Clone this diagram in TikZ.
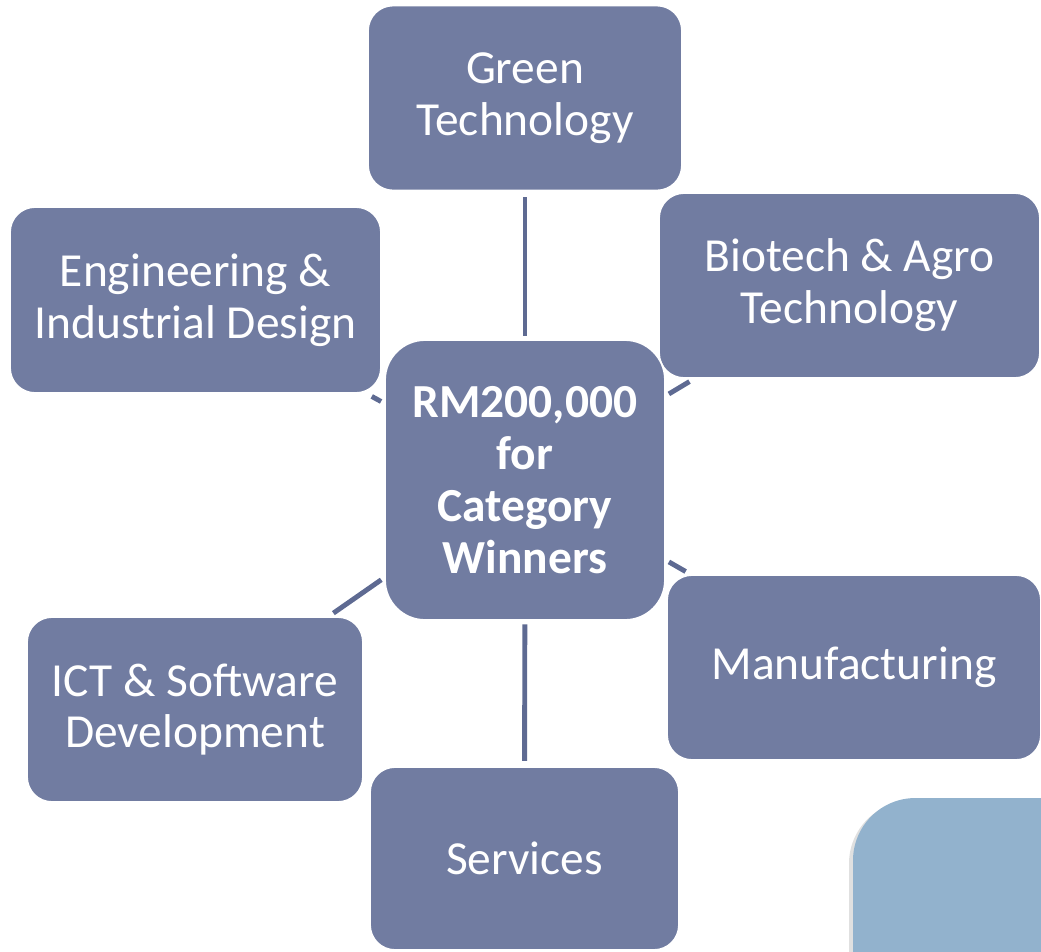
\documentclass[tikz,border=0pt]{standalone}
\usepackage{fontspec}
\setmainfont{Carlito}
\definecolor{boxblue}{HTML}{717CA1}
\definecolor{linkblue}{HTML}{5E6A92}
\definecolor{cornerblue}{HTML}{92B2CD}
\tikzset{
  catbox/.style={draw=white, line width=1pt, fill=boxblue, rounded corners=0.5cm,
    text=white, align=center, inner sep=0pt, font=\fontsize{27}{29.5}\selectfont},
  hubbox/.style={catbox, rounded corners=0.8cm, font=\fontsize{27}{29.5}\selectfont\bfseries},
  link/.style={draw=linkblue, line width=2.8pt, shorten <=2pt, shorten >=3pt}
}
\begin{document}
\begin{tikzpicture}[x=0.02cm,y=-0.02cm]
\useasboundingbox (0,0) rectangle (1041,951);
\clip (0,0) rectangle (1041,951);
% corner box lower right
\fill[black!12, rounded corners=1.25cm] (849,801) rectangle (1120,1020);
\fill[cornerblue, rounded corners=1.25cm] (853,798) rectangle (1120,1020);
% categories
\node[catbox, minimum width=6.28cm, minimum height=3.7cm] (green) at (525,98) {Green\\Technology};
\node[catbox, minimum width=7.62cm, minimum height=3.7cm] (bio) at (849.5,285.5) {Biotech \& Agro\\Technology};
\node[catbox, minimum width=7.42cm, minimum height=3.72cm] (eng) at (195.5,300) {Engineering \&\\Industrial Design};
\node[catbox, minimum width=7.48cm, minimum height=3.7cm] (manu) at (854,667.5) {Manufacturing};
\node[catbox, minimum width=6.72cm, minimum height=3.7cm] (ict) at (195,709.5) {ICT \& Software\\Development};
\node[catbox, minimum width=6.18cm, minimum height=3.66cm] (serv) at (524.5,858.5) {Services};
% centre
\node[hubbox, minimum width=5.6cm, minimum height=5.6cm] (hub) at (525,480) {RM200,000\\for\\Category\\Winners};
% spokes
\foreach \n in {green,bio,eng,manu,ict,serv}
\draw[link] (hub) -- (\n);
\end{tikzpicture}
\end{document}
